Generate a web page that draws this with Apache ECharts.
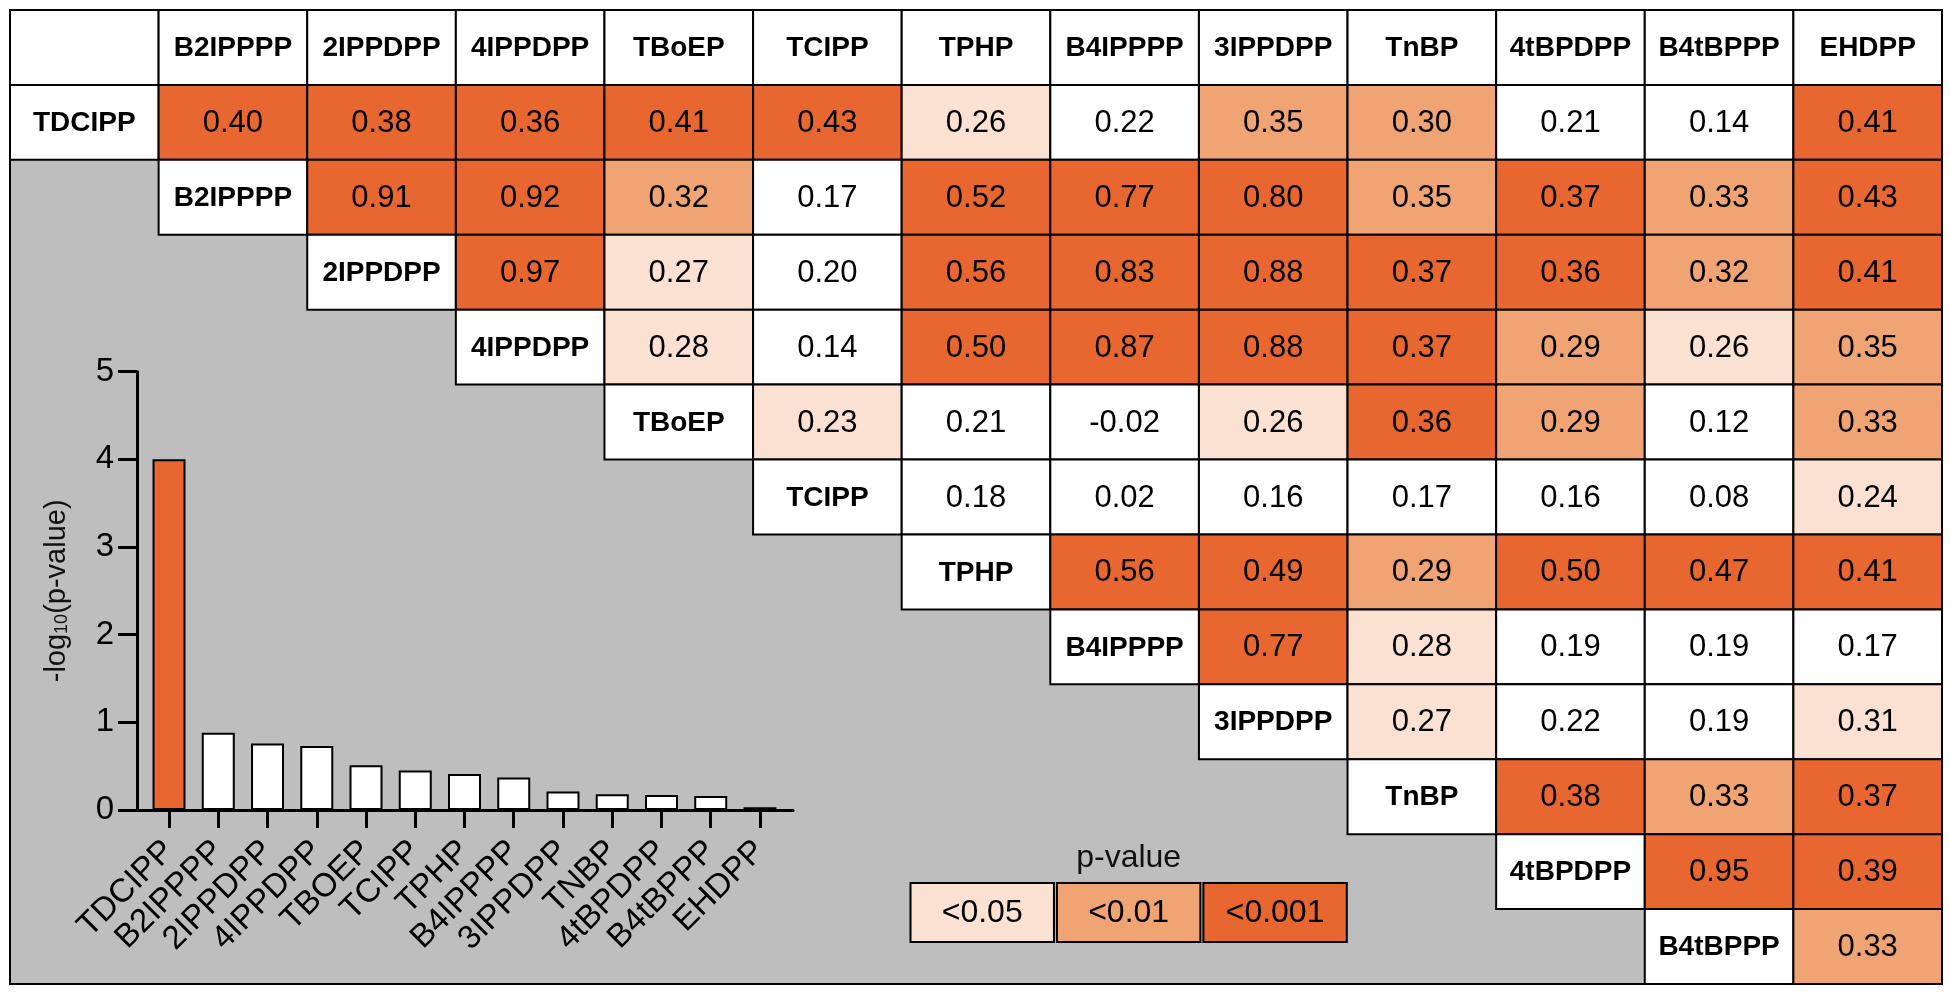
<!DOCTYPE html>
<html><head><meta charset="utf-8">
<script src="https://cdn.jsdelivr.net/npm/echarts@6/dist/echarts.min.js"></script>
<style>html,body{margin:0;padding:0;background:#fff}#c{width:1950px;height:992px}</style>
</head><body><div id="c"></div>
<script>
// ---- data ----
const compounds = ['TDCIPP','B2IPPPP','2IPPDPP','4IPPDPP','TBoEP','TCIPP','TPHP','B4IPPPP','3IPPDPP','TnBP','4tBPDPP','B4tBPPP','EHDPP'];
// upper-triangle correlation coefficients, row i vs compounds i+1..12
const corr = [
  [0.40,0.38,0.36,0.41,0.43,0.26,0.22,0.35,0.30,0.21,0.14,0.41],
  [0.91,0.92,0.32,0.17,0.52,0.77,0.80,0.35,0.37,0.33,0.43],
  [0.97,0.27,0.20,0.56,0.83,0.88,0.37,0.36,0.32,0.41],
  [0.28,0.14,0.50,0.87,0.88,0.37,0.29,0.26,0.35],
  [0.23,0.21,-0.02,0.26,0.36,0.29,0.12,0.33],
  [0.18,0.02,0.16,0.17,0.16,0.08,0.24],
  [0.56,0.49,0.29,0.50,0.47,0.41],
  [0.77,0.28,0.19,0.19,0.17],
  [0.27,0.22,0.19,0.31],
  [0.38,0.33,0.37],
  [0.95,0.39],
  [0.33]
];
// significance level: 0 = n.s., 1 = p<0.05, 2 = p<0.01, 3 = p<0.001
const sig = [
  [3,3,3,3,3,1,0,2,2,0,0,3],
  [3,3,2,0,3,3,3,2,3,2,3],
  [3,1,0,3,3,3,3,3,2,3],
  [1,0,3,3,3,3,2,1,2],
  [1,0,0,1,3,2,0,2],
  [0,0,0,0,0,0,1],
  [3,3,2,3,3,3],
  [3,1,0,0,0],
  [1,0,0,1],
  [3,2,3],
  [3,3],
  [2]
];
const barLabels = ['TDCIPP','B2IPPPP','2IPPDPP','4IPPDPP','TBOEP','TCIPP','TPHP','B4IPPPP','3IPPDPP','TNBP','4tBPDPP','B4tBPPP','EHDPP'];
const negLogP = [4.00,0.88,0.76,0.73,0.51,0.45,0.41,0.37,0.21,0.18,0.17,0.16,0.03];
const legendLabels = ['<0.05','<0.01','<0.001'];
const legendTitle = 'p-value';

// ---- styles ----
const levelColors = ['#FFFFFF','#FBE1D1','#F0A373','#E8662F'];
const FONT = '"Liberation Sans", Arial, Helvetica, sans-serif';

// build table cells
const cells = [];
cells.push({col:0,row:0,text:'',fill:'#fff',bold:true});
for (let j=1;j<compounds.length;j++) cells.push({col:j,row:0,text:compounds[j],fill:'#fff',bold:true});
for (let i=0;i<corr.length;i++){
  cells.push({col:i,row:i+1,text:compounds[i],fill:'#fff',bold:true});
  for (let k=0;k<corr[i].length;k++){
    cells.push({col:i+1+k,row:i+1,text:corr[i][k].toFixed(2),fill:levelColors[sig[i][k]],bold:false});
  }
}
function barLevel(v){ return v>=3?3:(v>=2?2:(v>=-Math.log10(0.05)?1:0)); }

const idx = compounds.map((c,i)=>i);
const chart = echarts.init(document.getElementById('c'), null, {renderer:'canvas'});
chart.setOption({
  animation:false,
  backgroundColor:'#fff',
  grid:[
    {left:10, top:10, width:1932, height:974, show:true, backgroundColor:'#BEBEBE', borderColor:'#000', borderWidth:2},
    {left:144.4, top:371.7, width:640.2, height:438.3},
    {left:137, top:371.7, width:656, height:438.3},
    {left:909, top:883, width:439.3, height:59}
  ],
  xAxis:[
    {gridIndex:0, type:'category', data:idx, show:false},
    {gridIndex:1, type:'category', data:barLabels, axisLine:{show:false},
      axisTick:{show:true, alignWithLabel:true, length:18, lineStyle:{color:'#000', width:3}},
      axisLabel:{rotate:45, fontSize:33, color:'#000', fontFamily:FONT, margin:36, interval:0}},
    {gridIndex:2, type:'value', min:0, max:1, axisLine:{show:true, lineStyle:{color:'#000', width:3}},
      axisTick:{show:false}, axisLabel:{show:false}, splitLine:{show:false}},
    {gridIndex:3, type:'category', data:legendLabels, position:'top', axisLine:{show:false}, axisTick:{show:false},
      axisLabel:{show:false}, name:legendTitle, nameLocation:'middle', nameGap:9,
      nameTextStyle:{fontSize:32, color:'#111', fontFamily:FONT}}
  ],
  yAxis:[
    {gridIndex:0, type:'category', data:idx, inverse:true, show:false},
    {gridIndex:1, type:'value', min:0, max:5, show:false},
    {gridIndex:2, type:'value', min:0, max:5, interval:1,
      axisLine:{show:true, lineStyle:{color:'#000', width:3}},
      axisTick:{show:true, length:19, lineStyle:{color:'#000', width:3}},
      axisLabel:{fontSize:33, color:'#000', fontFamily:FONT, margin:23},
      splitLine:{show:false},
      name:'-log{s|10}(p-value)', nameLocation:'middle', nameRotate:90, nameGap:66,
      nameTextStyle:{fontSize:29, color:'#111', fontFamily:FONT,
        rich:{s:{fontSize:18, color:'#111', fontFamily:FONT, verticalAlign:'bottom', padding:[6,0,0,0]}}}},
    {gridIndex:3, type:'category', data:[''], show:false}
  ],
  series:[
    {type:'custom', xAxisIndex:0, yAxisIndex:0, clip:false, z:2,
      data:cells.map(c=>[c.col,c.row]),
      renderItem:function(params, api){
        const c = cells[params.dataIndex];
        const p = api.coord([api.value(0), api.value(1)]);
        const s = api.size([1,1]);
        return {type:'group', children:[
          {type:'rect', shape:{x:p[0]-s[0]/2, y:p[1]-s[1]/2, width:s[0], height:s[1]},
            style:{fill:c.fill, stroke:'#000', lineWidth:2}},
          {type:'text', x:p[0], y:p[1]+1, style:{text:c.text, align:'center', verticalAlign:'middle',
            fontSize:c.bold?28:31, fontWeight:c.bold?'bold':'normal', fontFamily:FONT, fill:'#000'}}
        ]};
      }},
    {type:'bar', xAxisIndex:1, yAxisIndex:1, barWidth:'67%', z:3,
      data:negLogP.map(v=>({value:v, itemStyle:{color:levelColors[barLevel(v)]}})),
      itemStyle:{borderColor:'#000', borderWidth:2}},
    {type:'custom', xAxisIndex:3, yAxisIndex:3, clip:false, z:3,
      data:legendLabels.map((l,i)=>[i,0]),
      renderItem:function(params, api){
        const i = params.dataIndex;
        const p = api.coord([api.value(0), api.value(1)]);
        const s = api.size([1,1]);
        const w = s[0]-3;
        return {type:'group', children:[
          {type:'rect', shape:{x:p[0]-w/2, y:p[1]-s[1]/2, width:w, height:s[1]},
            style:{fill:levelColors[i+1], stroke:'#000', lineWidth:2}},
          {type:'text', x:p[0], y:p[1]+1, style:{text:legendLabels[i], align:'center', verticalAlign:'middle',
            fontSize:32, fontFamily:FONT, fill:'#000'}}
        ]};
      }}
  ]
});
</script></body></html>
